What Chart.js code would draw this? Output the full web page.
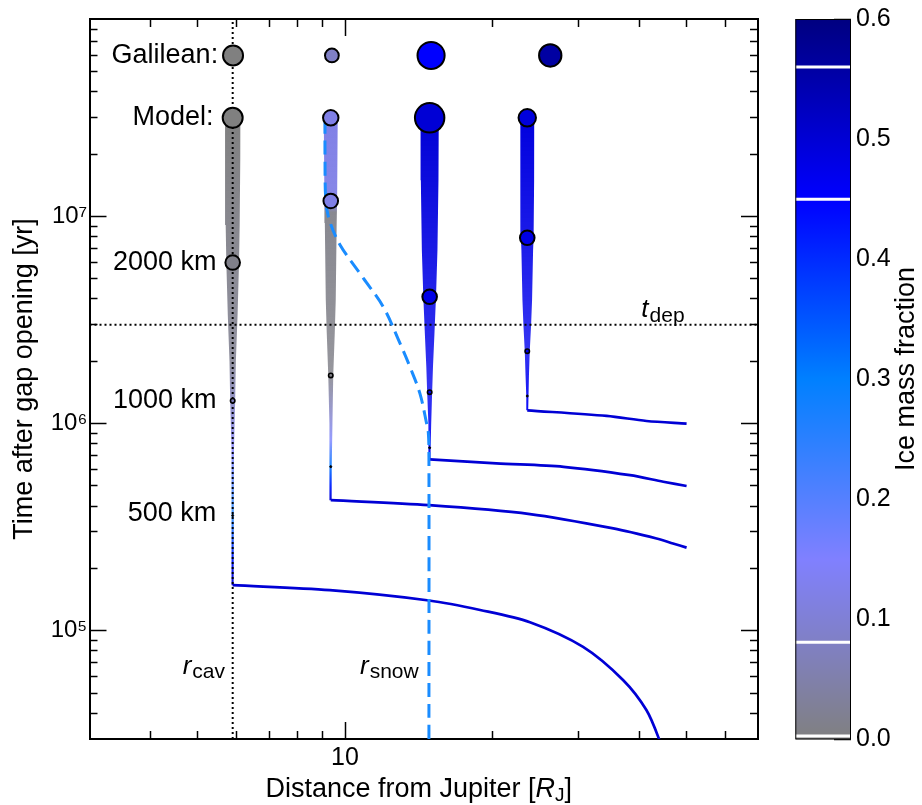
<!DOCTYPE html>
<html>
<head>
<meta charset="utf-8">
<script src="https://cdn.jsdelivr.net/npm/chart.js@4.4.1/dist/chart.umd.min.js"></script>
<style>
  html, body { margin: 0; padding: 0; background: #fff; }
  #wrap { position: relative; width: 922px; height: 805px; }
  #main { position: absolute; left: 0; top: 0; }
  #cbar { position: absolute; left: 780px; top: 0; }
</style>
</head>
<body>
<div id="wrap">
  <canvas id="main" width="780" height="805"></canvas>
  <canvas id="cbar" width="142" height="805"></canvas>
</div>
<script>
// ---- axes ----
const xMin = 3, xMax = 70;          // distance [R_J]
const yMin = 3e4, yMax = 9e7;       // time [yr]
const xMajor = [10];
const xMinor = [4, 5, 6, 7, 8, 9, 20, 30, 40, 50, 60];
const yMajor = [1e5, 1e6, 1e7];
const yMinor = [4e4, 5e4, 6e4, 7e4, 8e4, 9e4,
  2e5, 3e5, 4e5, 5e5, 6e5, 7e5, 8e5, 9e5,
  2e6, 3e6, 4e6, 5e6, 6e6, 7e6, 8e6, 9e6,
  2e7, 3e7, 4e7, 5e7, 6e7, 7e7, 8e7];
const cbTicks = [0, 0.1, 0.2, 0.3, 0.4, 0.5, 0.6];

// ---- reference lines ----
const rCav = 5.89;
const tDep = 3.0e6;
const snowR = [14.85, 14.85, 14.81, 14.69, 14.23, 13.58, 12.96, 11.97, 10.90, 9.77, 9.31, 9.14, 9.10, 9.10];
const snowT = [3.0e4, 6.9e5, 9.0e5, 1.0e6, 1.40e6, 1.88e6, 2.44e6, 3.67e6, 5.04e6, 7.30e6, 9.46e6, 1.18e7, 1.91e7, 2.88e7];

// ---- Galilean satellites (mass in 1e22 kg) ----
const galileanR = [5.9, 9.4, 15.0, 26.3];
const galileanMass = [8.93, 4.80, 14.82, 10.76];
const galileanIce = [0.0, 0.081, 0.45, 0.56];
const tGalilean = 6.0e7;
const cbMarks = [0.003, 0.081, 0.45, 0.56];

// ---- model satellites ----
const stallR = [5.89, 9.35, 14.9, 23.6];
const modelMass = [8.9, 5.8, 17.0, 7.1];
const modelIce = [0.0, 0.12, 0.50, 0.49];
const tModel = 3.0e7;
const migIce = 0.5;

// times at which each satellite reaches 500 / 1000 / 2000 km
const t500 = [3.6e5, 6.2e5, 7.65e5, 1.36e6];
const t1000 = [1.29e6, 1.71e6, 1.42e6, 2.24e6];
const t2000 = [6.0e6, 1.19e7, 4.1e6, 7.9e6];

// migration paths (distance, time)
const mig1R = [46.5, 44.0, 41.4, 37.1, 30.7, 23.9, 18.9, 14.85, 9.31, 5.89];
const mig1T = [2.0e4, 2.96e4, 4.13e4, 5.77e4, 8.36e4, 1.10e5, 1.26e5, 1.40e5, 1.57e5, 1.66e5];
const mig2R = [50, 46.9, 43.4, 35.4, 23.9, 14.85, 9.35];
const mig2T = [2.52e5, 2.64e5, 2.79e5, 3.12e5, 3.66e5, 4.04e5, 4.27e5];
const mig3R = [50, 44.8, 38.3, 28.0, 20.4, 14.9];
const mig3T = [5.0e5, 5.24e5, 5.64e5, 6.19e5, 6.43e5, 6.72e5];
const mig4R = [50, 41.4, 34.3, 23.6];
const mig4T = [1.0e6, 1.03e6, 1.09e6, 1.16e6];

// growth after stalling: satellite radius [km] vs time
const grow1T = [1.66e5, 3.6e5, 7.5e5, 1.29e6, 2.0e6, 3.35e6, 6.0e6, 9.1e6, 1.9e7, 3.0e7];
const grow1R = [480, 500, 620, 1000, 1200, 1650, 2000, 2150, 2280, 2300];
const grow2T = [4.27e5, 6.2e5, 1.0e6, 1.71e6, 2.73e6, 3.96e6, 9.3e6, 1.19e7, 3.0e7];
const grow2R = [480, 500, 750, 1000, 1420, 1670, 1900, 2000, 2140];
const grow3T = [6.72e5, 7.65e5, 1.0e6, 1.42e6, 1.88e6, 2.73e6, 4.1e6, 6.9e6, 1.5e7, 3.0e7];
const grow3R = [480, 500, 700, 1000, 1240, 1630, 2000, 2330, 2550, 2610];
const grow4T = [1.16e6, 1.36e6, 1.7e6, 2.24e6, 3.0e6, 3.96e6, 6.9e6, 7.9e6, 1.5e7, 3.0e7];
const grow4R = [480, 500, 750, 1000, 1380, 1630, 1880, 2000, 2120, 2140];

// ice mass fraction along each growth track
const ice1T = [1.66e5, 2.2e5, 3.6e5, 5.3e5, 7.5e5, 1.0e6, 1.3e6, 2.0e6, 3.0e7];
const ice1F = [0.50, 0.42, 0.28, 0.20, 0.15, 0.10, 0.07, 0.02, 0.0];
const ice2T = [4.27e5, 4.95e5, 6.2e5, 8.3e5, 1.08e6, 1.7e6, 1.05e7, 1.15e7, 3.0e7];
const ice2F = [0.50, 0.42, 0.28, 0.16, 0.09, 0.01, 0.01, 0.12, 0.12];
const ice3T = [6.72e5, 1.42e6, 4.1e6, 3.0e7];
const ice3F = [0.46, 0.47, 0.48, 0.50];
const ice4T = [1.16e6, 2.24e6, 7.9e6, 3.0e7];
const ice4F = [0.46, 0.47, 0.48, 0.49];

const tracks = [
  { migR: mig1R, migT: mig1T, growT: grow1T, growR: grow1R, iceT: ice1T, iceF: ice1F },
  { migR: mig2R, migT: mig2T, growT: grow2T, growR: grow2R, iceT: ice2T, iceF: ice2F },
  { migR: mig3R, migT: mig3T, growT: grow3T, growR: grow3R, iceT: ice3T, iceF: ice3F },
  { migR: mig4R, migT: mig4T, growT: grow4T, growR: grow4R, iceT: ice4T, iceF: ice4F }
];

// ---- styling ----
const FONT = "'Liberation Sans', Arial, Helvetica, sans-serif";
Chart.defaults.font.family = FONT;
Chart.defaults.font.size = 25;
Chart.defaults.color = '#000';

const cmapStops = [0, 0.15, 0.3, 0.45, 0.6];
const cmapRGB = [[128, 128, 128], [128, 128, 255], [0, 128, 255], [0, 0, 255], [0, 0, 128]];

function iceColor(f, a) {
  if (a === undefined) a = 1;
  let i = 0;
  while (i < cmapStops.length - 2 && f > cmapStops[i + 1]) i++;
  const u = Math.min(1, Math.max(0, (f - cmapStops[i]) / (cmapStops[i + 1] - cmapStops[i])));
  const c = cmapRGB[i].map((v, j) => Math.round(v + (cmapRGB[i + 1][j] - v) * u));
  return 'rgba(' + c[0] + ',' + c[1] + ',' + c[2] + ',' + a + ')';
}

function iceAt(T, F, t) {
  if (t <= T[0]) return F[0];
  for (let i = 1; i < T.length; i++) {
    if (t <= T[i]) {
      const u = (Math.log10(t) - Math.log10(T[i - 1])) / (Math.log10(T[i]) - Math.log10(T[i - 1]));
      return F[i - 1] + (F[i] - F[i - 1]) * u;
    }
  }
  return F[F.length - 1];
}

const markerRadius = m => 2.69 * Math.pow(m, 0.6);
const halfWidth = R => 0.0051 * Math.pow(R / 1000, 1.35);   // dex

function taperPoints(r0, T, R) {
  const left = T.map((t, i) => ({ x: r0 * Math.pow(10, -halfWidth(R[i])), y: t }));
  const right = T.map((t, i) => ({ x: r0 * Math.pow(10, halfWidth(R[i])), y: t })).reverse();
  return left.concat(right);
}

function taperGradient(context, tr) {
  const chart = context.chart;
  const { ctx, chartArea, scales } = chart;
  if (!chartArea) return iceColor(tr.iceF[0]);
  const y0 = scales.y.getPixelForValue(tr.growT[0]);
  const y1 = scales.y.getPixelForValue(tr.growT[tr.growT.length - 1]);
  const g = ctx.createLinearGradient(0, y0, 0, y1);
  tr.iceT.forEach((t, i) => {
    const off = Math.min(1, Math.max(0, (scales.y.getPixelForValue(t) - y0) / (y1 - y0)));
    g.addColorStop(off, iceColor(tr.iceF[i], off < 0.1 ? 0.95 : 0.74 + 0.26 * off));
  });
  return g;
}

function sup(v) {
  const map = { '0': '⁰', '1': '¹', '2': '²', '3': '³', '4': '⁴', '5': '⁵', '6': '⁶', '7': '⁷', '8': '⁸', '9': '⁹' };
  return '10' + String(Math.round(Math.log10(v))).split('').map(d => map[d]).join('');
}

// ---- datasets ----
const datasets = [];
const pts = (R, T) => R.map((r, i) => ({ x: r, y: Array.isArray(T) ? T[i] : T }));

datasets.push({
  data: pts(galileanR, tGalilean), showLine: false,
  pointRadius: galileanMass.map(markerRadius),
  pointBackgroundColor: galileanIce.map(f => iceColor(f)),
  pointBorderColor: '#000', pointBorderWidth: 2, order: 0
});
datasets.push({
  data: pts(stallR, tModel), showLine: false,
  pointRadius: modelMass.map(markerRadius),
  pointBackgroundColor: modelIce.map(f => iceColor(f)),
  pointBorderColor: '#000', pointBorderWidth: 2, order: 0
});
datasets.push({
  data: pts(stallR, t2000), showLine: false, pointRadius: 7.3,
  pointBackgroundColor: tracks.map((tr, k) => iceColor(iceAt(tr.iceT, tr.iceF, t2000[k]))),
  pointBorderColor: '#000', pointBorderWidth: 2, order: 0
});
datasets.push({
  data: pts(stallR, t1000), showLine: false, pointRadius: 2.2,
  pointBackgroundColor: tracks.map((tr, k) => iceColor(iceAt(tr.iceT, tr.iceF, t1000[k]))),
  pointBorderColor: '#000', pointBorderWidth: 1.6, order: 0
});
datasets.push({
  data: pts(stallR, t500), showLine: false, pointRadius: 1,
  pointBackgroundColor: '#000', pointBorderColor: '#000', pointBorderWidth: 1, order: 0
});

// snow line
datasets.push({
  data: pts(snowR, snowT), borderColor: '#1a8cff', borderWidth: 3, borderDash: [14, 7],
  pointRadius: 0, tension: 0.35, fill: false, order: 1
});
// r_cav and t_dep
datasets.push({
  data: [{ x: rCav, y: yMin }, { x: rCav, y: yMax }], borderColor: '#000', borderWidth: 2,
  borderDash: [2, 3], pointRadius: 0, fill: false, order: 2
});
datasets.push({
  data: [{ x: xMin, y: tDep }, { x: xMax, y: tDep }], borderColor: '#000', borderWidth: 2,
  borderDash: [2, 3], pointRadius: 0, fill: false, order: 2
});

tracks.forEach((tr, k) => {
  datasets.push({
    data: taperPoints(stallR[k], tr.growT, tr.growR),
    fill: 'shape', backgroundColor: c => taperGradient(c, tr),
    borderWidth: 0, borderColor: 'rgba(0,0,0,0)', pointRadius: 0, tension: 0, order: 3
  });
  datasets.push({
    data: pts(tr.migR, tr.migT), borderColor: iceColor(migIce), borderWidth: 2.7,
    pointRadius: 0, tension: 0.3, fill: false, order: 4
  });
});

// ---- axes ----
function noPad(s) { s.paddingTop = 0; s.paddingBottom = 0; s.paddingLeft = 0; s.paddingRight = 0; }

function logAxis(axis, position, values, tickLen, opts) {
  opts = opts || {};
  const horiz = axis === 'x';
  return {
    type: 'logarithmic', axis: axis, position: position,
    min: horiz ? xMin : yMin, max: horiz ? xMax : yMax,
    weight: opts.size ? 1 : 0,
    afterBuildTicks: s => { s.ticks = values.map(v => ({ value: v })); },
    afterFit: s => {
      if (horiz) s.height = opts.size || 0; else s.width = opts.size || 0;
      noPad(s);
    },
    grid: { display: true, drawOnChartArea: false, drawTicks: true, tickLength: -tickLen, tickColor: '#000', tickWidth: 1.5 },
    border: { display: !!opts.border, color: '#000', width: 2 },
    ticks: opts.labels
      ? { display: true, autoSkip: false, maxRotation: 0, padding: opts.pad, font: { size: opts.fontSize }, color: '#000', callback: opts.labels }
      : { display: false },
    title: opts.title
      ? { display: true, text: opts.title, font: { size: 27 }, color: '#000', padding: { top: 8.8, bottom: 0 } }
      : { display: false }
  };
}

// ---- text ----
const plotText = [
  { text: 'Galilean:', x: 5.50, y: 6.0e7 },
  { text: 'Model:', x: 5.38, y: 3.0e7 },
  { text: '2000 km', x: 5.46, y: 6.0e6 },
  { text: '1000 km', x: 5.46, y: 1.3e6 },
  { text: '500 km', x: 5.45, y: 3.7e5 }
];
const subText = [
  { main: 'r', sub: 'cav', x: 5.68, y: 6.2e4, align: 'right' },
  { main: 'r', sub: 'snow', x: 14.15, y: 6.2e4, align: 'right' },
  { main: 't', sub: 'dep', x: 40.4, y: 3.27e6, align: 'left' }
];

function drawSub(ctx, x, y, main, sub, align, size, subSize, drop) {
  ctx.font = 'italic ' + size + 'px ' + FONT;
  const w1 = ctx.measureText(main).width;
  ctx.font = subSize + 'px ' + FONT;
  const w2 = ctx.measureText(sub).width;
  const x0 = align === 'right' ? x - w1 - w2 - 1 : x;
  ctx.textAlign = 'left';
  ctx.textBaseline = 'alphabetic';
  ctx.font = 'italic ' + size + 'px ' + FONT;
  ctx.fillText(main, x0, y);
  ctx.font = subSize + 'px ' + FONT;
  ctx.fillText(sub, x0 + w1 + 1, y + drop);
}

const textPlugin = {
  id: 'plotText',
  afterDatasetsDraw(chart) {
    const { ctx, scales: { x, y } } = chart;
    ctx.save();
    ctx.fillStyle = '#000';
    ctx.font = '27px ' + FONT;
    ctx.textAlign = 'right';
    ctx.textBaseline = 'middle';
    plotText.forEach(l => ctx.fillText(l.text, x.getPixelForValue(l.x), y.getPixelForValue(l.y)));
    subText.forEach(l => drawSub(ctx, x.getPixelForValue(l.x), y.getPixelForValue(l.y), l.main, l.sub, l.align, 26, 21, 4.5));
    ctx.restore();
  },
  afterDraw(chart) {
    // x axis title with italic R and subscript J
    const { ctx, chartArea } = chart;
    ctx.save();
    ctx.fillStyle = '#000';
    ctx.textBaseline = 'alphabetic';
    ctx.textAlign = 'left';
    const parts = [
      { t: 'Distance from Jupiter [', f: '27px ' + FONT, d: 0 },
      { t: 'R', f: 'italic 27px ' + FONT, d: 0 },
      { t: 'J', f: '19px ' + FONT, d: 4 },
      { t: ']', f: '27px ' + FONT, d: 0 }
    ];
    let w = 0;
    parts.forEach(p => { ctx.font = p.f; p.w = ctx.measureText(p.t).width; w += p.w; });
    let xx = (chartArea.left + chartArea.right) / 2 - w / 2 - 5;
    parts.forEach(p => { ctx.font = p.f; ctx.fillText(p.t, xx, 797 + p.d); xx += p.w; });
    ctx.restore();
  }
};

new Chart(document.getElementById('main'), {
  type: 'line',
  data: { datasets: datasets },
  options: {
    responsive: false, animation: false, events: [],
    layout: { padding: { top: 19, right: 22, bottom: 0, left: 0 } },
    plugins: { legend: { display: false }, tooltip: { enabled: false } },
    scales: {
      x: logAxis('x', 'bottom', xMajor, 17, { size: 66, border: true, pad: 21, fontSize: 25, labels: v => String(v) }),
      xMinorB: logAxis('x', 'bottom', xMinor, 8),
      xTop: logAxis('x', 'top', xMajor, 17, { border: true }),
      xMinorT: logAxis('x', 'top', xMinor, 8),
      y: logAxis('y', 'left', yMajor, 17, { size: 89.5, border: true, pad: 19.2, fontSize: 24, labels: sup, title: 'Time after gap opening [yr]' }),
      yMinorL: logAxis('y', 'left', yMinor, 8),
      yRight: logAxis('y', 'right', yMajor, 17, { border: true }),
      yMinorR: logAxis('y', 'right', yMinor, 8)
    }
  },
  plugins: [textPlugin]
});

// ---- colour bar ----
const cbMin = cbTicks[0], cbMax = cbTicks[cbTicks.length - 1];
const cbBox = [{ x: 0, y: cbMin }, { x: 1, y: cbMin }, { x: 1, y: cbMax }, { x: 0, y: cbMax }, { x: 0, y: cbMin }];

function cbGradient(context) {
  const { ctx, chartArea, scales } = context.chart;
  if (!chartArea) return iceColor(0.3);
  const y0 = scales.y.getPixelForValue(cbMin), y1 = scales.y.getPixelForValue(cbMax);
  const g = ctx.createLinearGradient(0, y0, 0, y1);
  cmapStops.forEach(s => g.addColorStop((s - cbMin) / (cbMax - cbMin), iceColor(s)));
  return g;
}

const cbSets = [
  { data: cbBox, fill: 'shape', backgroundColor: cbGradient, borderWidth: 0, borderColor: 'rgba(0,0,0,0)', pointRadius: 0, order: 2 },
  { data: cbBox, fill: false, borderColor: '#000', borderWidth: 2, pointRadius: 0, order: 0 }
];
cbMarks.forEach(v => cbSets.push({
  data: [{ x: 0, y: v }, { x: 1, y: v }], borderColor: '#fff', borderWidth: 3, pointRadius: 0, fill: false, order: 1
}));

const cbTitle = {
  id: 'cbTitle',
  afterDraw(chart) {
    const { ctx } = chart;
    ctx.save();
    ctx.translate(127, 369);
    ctx.rotate(-Math.PI / 2);
    ctx.font = '27px ' + FONT;
    ctx.fillStyle = '#000';
    ctx.textAlign = 'center';
    ctx.textBaseline = 'middle';
    ctx.fillText('Ice mass fraction', 0, 0);
    ctx.restore();
  }
};

new Chart(document.getElementById('cbar'), {
  type: 'line',
  data: { datasets: cbSets },
  options: {
    responsive: false, animation: false, events: [],
    layout: { padding: { top: 19, right: 0, bottom: 65.5, left: 15.3 } },
    plugins: { legend: { display: false }, tooltip: { enabled: false } },
    scales: {
      x: { type: 'linear', min: 0, max: 1, display: false },
      y: {
        type: 'linear', position: 'right', min: cbMin, max: cbMax,
        afterBuildTicks: s => { s.ticks = cbTicks.map(v => ({ value: v })); },
        afterFit: s => { s.width = 71; noPad(s); },
        grid: { display: true, drawOnChartArea: false, drawTicks: true, tickLength: -17, tickColor: '#000', tickWidth: 1.5 },
        border: { display: false },
        ticks: { padding: 22, font: { size: 25 }, color: '#000', callback: v => v.toFixed(1) }
      }
    }
  },
  plugins: [cbTitle]
});
</script>
</body>
</html>
